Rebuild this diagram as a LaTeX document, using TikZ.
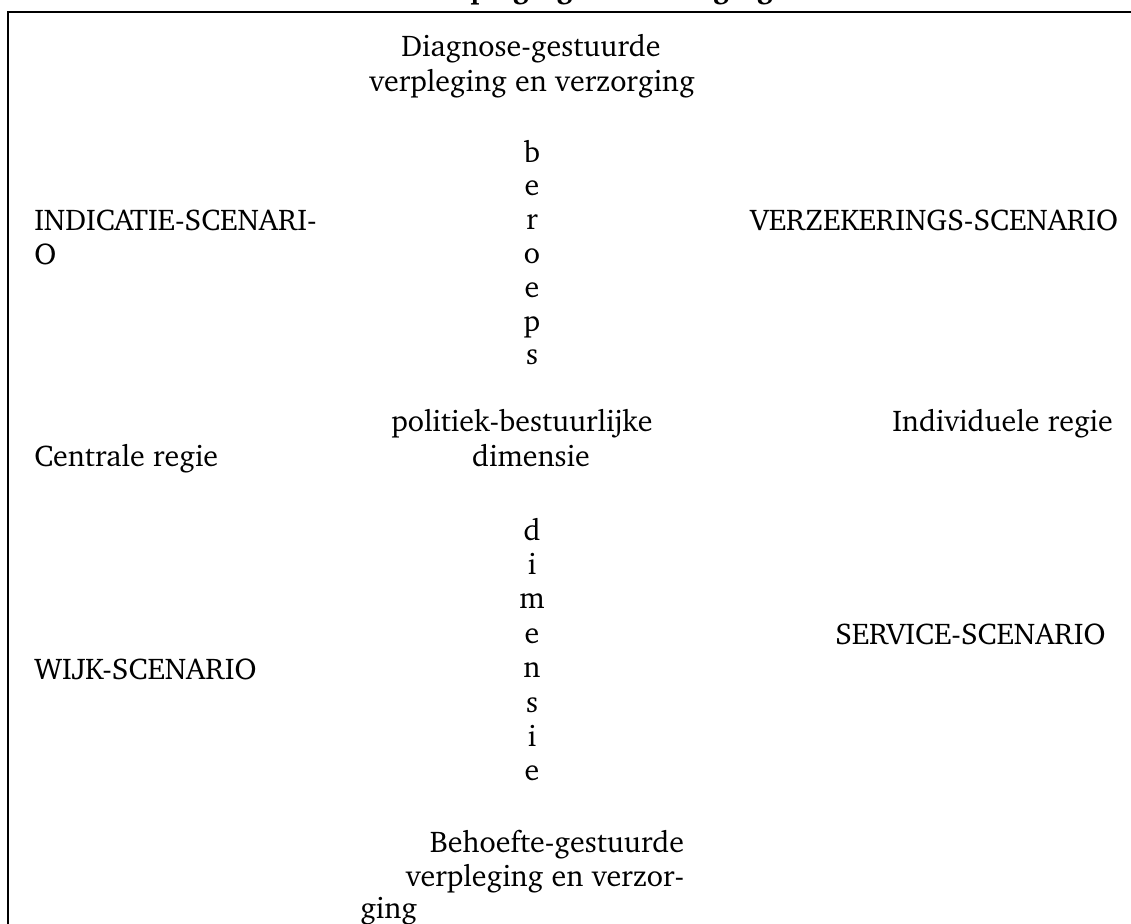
\documentclass[tikz,border=0pt]{standalone}
\usepackage[T1]{fontenc}
\usepackage{charter}

\tikzset{
  lbl/.style={font=\fontsize{22.5}{27}\selectfont, inner sep=0pt, anchor=base},
  lblw/.style={lbl, anchor=base west},
}

\begin{document}
\begin{tikzpicture}[x=0.75pt,y=0.75pt,yscale=-1,xscale=1]
\clip (0,0) rectangle (1131,924);
\path [use as bounding box] (0,0) rectangle (1131,924);

%Frame (open to the right and below)
\draw [line width=2.2pt] (8,940) -- (8,12) -- (1150,12) ;

% Title Node (cut off at the top)
\node [lbl, font=\bfseries\fontsize{22.5}{27}\selectfont] (title) at (600,-1) {verpleging en verzorging};

% Text Node
\node [lbl] (diag1) at (531,57) {Diagnose-gestuurde};
\node [lbl] (diag2) at (532,92) {verpleging en verzorging};
% Text Node
\foreach \ch [count=\i] in {b,e,r,o,e,p,s}
  \node [lbl] (beroeps\i) at (532,{162+33.8*(\i-1)}) {\ch};
% Text Node
\node [lblw] (indicatie1) at (34,230) {INDICATIE-SCENARI-};
\node [lblw] (indicatie2) at (34,264) {O};
% Text Node
\node [lblw] (verzekering) at (750,230) {VERZEKERINGS-SCENARIO};
% Text Node
\node [lbl] (polbest1) at (522,431) {politiek-bestuurlijke};
\node [lbl] (polbest2) at (531,466) {dimensie};
% Text Node
\node [lblw] (centraal) at (34,466) {Centrale regie};
\node [lblw] (individueel) at (892,431) {Individuele regie};
% Text Node
\foreach \ch [count=\i] in {d,i,m,e,n,s,i,e}
  \node [lbl] (dimensie\i) at (532,{540+34.4*(\i-1)}) {\ch};
% Text Node
\node [lblw] (service) at (835,644) {SERVICE-SCENARIO};
\node [lblw] (wijk) at (34,679) {WIJK-SCENARIO};
% Text Node
\node [lbl] (behoefte1) at (557,852) {Behoefte-gestuurde};
\node [lbl] (behoefte2) at (545,886) {verpleging en verzor-};
\node [lblw] (behoefte3) at (360,918) {ging};

\end{tikzpicture}
\end{document}
